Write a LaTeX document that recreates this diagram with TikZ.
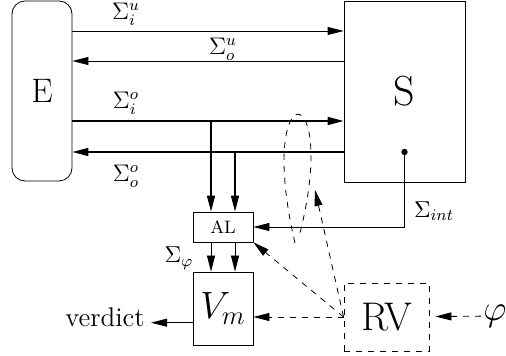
\RequirePackage{fix-cm}
\documentclass[tikz,border=0pt]{standalone}
\usetikzlibrary{arrows.meta}

\begin{document}
\begin{tikzpicture}[x=0.5pt,y=-0.5pt,
    >={Triangle[length=8pt,width=4pt]},
    blk/.style={draw,inner sep=0pt},
    sig/.style={thick},
    lbl/.style={font=\fontsize{12}{14}\selectfont,inner sep=0pt},
    big/.style={font=\fontsize{#1}{#1}\selectfont},
    obs/.style={dashed,->}]
  \useasboundingbox (0,0) rectangle (506,356);
  \node[blk,rounded corners=6.5pt,minimum width=30pt,minimum height=90pt,big=17] (E) at (42,91) {E};
  \node[blk,minimum width=60.5pt,minimum height=90.5pt,big=21] (S) at (404.5,91.5) {S};
  \node[blk,minimum width=30pt,minimum height=15pt,big=9] (AL) at (223,227) {AL};
  \node[blk,minimum width=30pt,minimum height=36.5pt,big=19] (Vm) at (223,308.5) {$V_m$};
  \node[blk,dashed,minimum width=42.5pt,minimum height=34pt,big=20] (RV) at (386.5,317) {RV};
  \node[big=18,inner sep=1pt] (phi) at (495,316) {$\varphi$};
  \node[big=13.5,anchor=base east,inner sep=3pt] (verdict) at (151,327) {verdict};

  \coordinate (iu) at (0,31);
  \coordinate (ou) at (0,61);
  \coordinate (io) at (0,121);
  \coordinate (oo) at (0,152);
  \coordinate (al1) at ([xshift=-6pt]AL.north);
  \coordinate (al2) at ([xshift=6pt]AL.north);
  \coordinate (tap) at ([yshift=-30.25pt]S.center);
  \coordinate (lassotip) at (315,190);

  \draw[->] (E.east |- iu) -- (S.west |- iu);
  \draw[->] (S.west |- ou) -- (E.east |- ou);
  \draw[sig,->] (E.east |- io) -- (S.west |- io);
  \draw[sig,->] (S.west |- oo) -- (E.east |- oo);
  \node[lbl] (liu) at (126,14) {$\Sigma_i^u$};
  \node[lbl] (lou) at (223,49) {$\Sigma_o^u$};
  \node[lbl] (lio) at (126,103) {$\Sigma_i^o$};
  \node[lbl] (loo) at (126,176) {$\Sigma_o^o$};

  \draw[sig,->] (al1 |- io) -- (al1);
  \draw[sig,->] (al2 |- oo) -- (al2);
  \draw[->] (al1 |- AL.south) -- (al1 |- Vm.north);
  \draw[->] (al2 |- AL.south) -- (al2 |- Vm.north);
  \node[lbl,big=11.5] (lphi) at (179,258) {$\Sigma_\varphi$};

  \fill (tap) circle (1.6pt);
  \draw[->] (tap) |- (AL.east);
  \node[lbl,big=11.5] (lint) at (434,211) {$\Sigma_{int}$};

  \draw[->] (Vm.west |- verdict.mid east) -- (verdict.mid east);
  \draw[obs,shorten >=3pt] (phi) -- (RV);
  \draw[obs] (RV.west) -- (RV.west -| Vm.east);
  \draw[obs] (RV.west) -- (AL.south east);
  \draw[obs] (RV.west) -- (lassotip);
  \draw[dashed] (295,243) .. controls (255,73) and (340,73) .. (300,233);
\end{tikzpicture}
\end{document}
